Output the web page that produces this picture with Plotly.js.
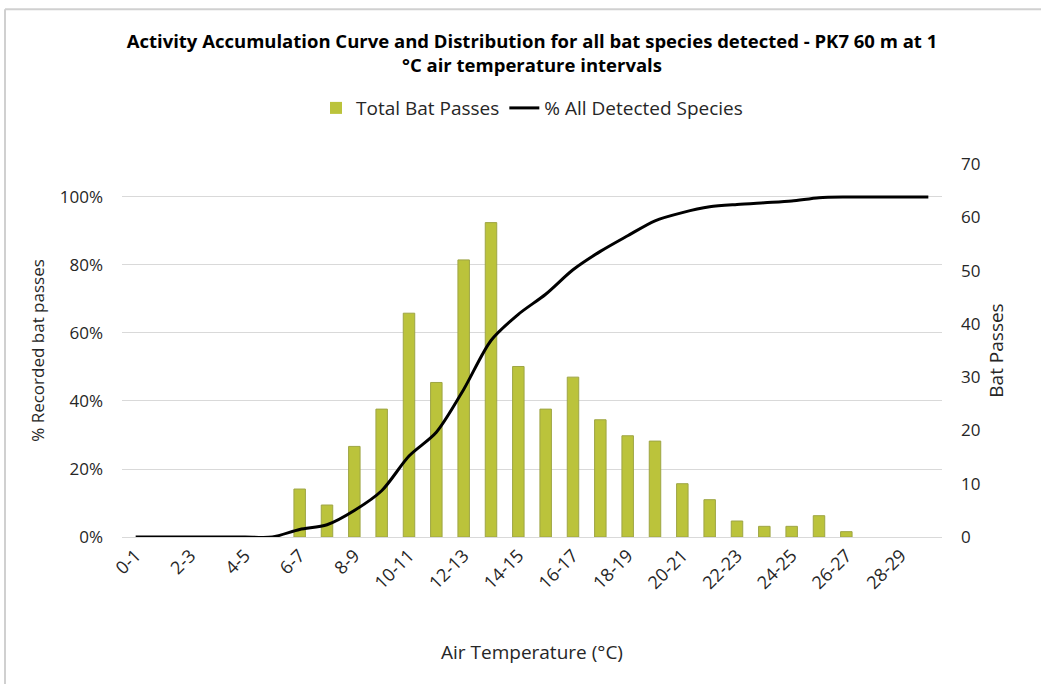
<!DOCTYPE html>
<html>
<head>
<meta charset="utf-8">
<script src="https://cdn.plot.ly/plotly-3.0.1.min.js"></script>
<style>html,body{margin:0;padding:0;background:#fff;}#chart{width:1041px;height:684px;}</style>
</head>
<body>
<div id="chart"></div>
<script>
// Air temperature intervals (°C)
const categories = ["0-1","1-2","2-3","3-4","4-5","5-6","6-7","7-8","8-9","9-10",
  "10-11","11-12","12-13","13-14","14-15","15-16","16-17","17-18","18-19","19-20",
  "20-21","21-22","22-23","23-24","24-25","25-26","26-27","27-28","28-29","29-30"];

// Total bat passes per interval (right axis)
const batPasses = [0,0,0,0,0,0,9,6,17,24,
  42,29,52,59,32,24,30,22,19,18,
  10,7,3,2,2,4,1,0,0,0];

// % of all detected species, cumulative (left axis, as fraction)
const cumulativePct = [0,0,0,0,0,0,0.022,0.036,0.078,0.136,
  0.238,0.308,0.434,0.578,0.655,0.714,0.786,0.840,0.886,0.930,
  0.954,0.971,0.978,0.983,0.988,0.998,1.0,1.0,1.0,1.0];

const tickLabels = ["0-1","2-3","4-5","6-7","8-9","10-11","12-13","14-15","16-17","18-19","20-21","22-23","24-25","26-27","28-29"];

const FONT = "Open Sans, Liberation Sans, sans-serif";
const TXT = "#262626";

const traces = [
  {
    type: "bar",
    name: "Total Bat Passes",
    x: categories,
    y: batPasses,
    xaxis: "x",
    yaxis: "y",
    marker: {color: "#BBC33B", line: {color: "#9EA544", width: batPasses.map(v => v > 0 ? 1 : 0)}},
    hoverinfo: "x+y"
  },
  {
    type: "scatter",
    mode: "lines",
    name: "% All Detected Species",
    x: categories,
    y: cumulativePct,
    xaxis: "x",
    yaxis: "y2",
    line: {color: "#000000", width: 3, shape: "spline", smoothing: 0.8}
  }
];

const layout = {
  width: 1041,
  height: 684,
  paper_bgcolor: "#ffffff",
  plot_bgcolor: "#ffffff",
  font: {family: FONT, size: 17, color: TXT},
  margin: {l: 122, r: 99, t: 164, b: 147, pad: 0},
  title: {
    text: "<b>Activity Accumulation Curve and Distribution for all bat species detected - PK7 60 m at 1<br>°C air temperature intervals</b>",
    font: {family: FONT, size: 18.5, color: "#000000", lineposition: "none"},
    x: 0.5, xref: "paper", xanchor: "center",
    y: 0.93, yref: "container", yanchor: "top"
  },
  showlegend: true,
  legend: {
    orientation: "h",
    x: 0.5, xanchor: "center",
    y: 1.15, yanchor: "middle",
    font: {family: FONT, size: 19, color: TXT},
    traceorder: "normal",
    itemwidth: 30,
    bgcolor: "rgba(0,0,0,0)"
  },
  bargap: 0.58,
  xaxis: {
    type: "category",
    categoryorder: "array",
    categoryarray: categories,
    range: [-0.5, categories.length - 0.5],
    tickmode: "array",
    tickvals: tickLabels,
    ticktext: tickLabels,
    tickangle: -45,
    ticks: "",
    showgrid: false,
    zeroline: false,
    showline: true,
    linecolor: "#D9D9D9",
    linewidth: 1,
    tickfont: {family: FONT, size: 18, color: TXT},
    title: {text: "Air Temperature (°C)", font: {family: FONT, size: 19, color: TXT}, standoff: 52},
    automargin: false,
    fixedrange: true
  },
  yaxis: {
    side: "right",
    range: [0, 70],
    dtick: 10,
    tick0: 0,
    showgrid: false,
    zeroline: false,
    showline: false,
    ticks: "",
    ticklabelstandoff: 18,
    tickfont: {family: FONT, size: 17, color: TXT},
    title: {text: "Bat Passes", font: {family: FONT, size: 19, color: TXT}, standoff: 10},
    automargin: false
  },
  yaxis2: {
    overlaying: "y",
    side: "left",
    range: [0, 1.097],
    tickmode: "array",
    tickvals: [0, 0.2, 0.4, 0.6, 0.8, 1.0],
    tickformat: ".0%",
    showgrid: true,
    gridcolor: "#D9D9D9",
    gridwidth: 1,
    zeroline: false,
    showline: false,
    ticks: "",
    ticklabelstandoff: 18,
    tickfont: {family: FONT, size: 17, color: TXT},
    title: {text: "% Recorded bat passes", font: {family: FONT, size: 17, color: TXT}, standoff: 10},
    automargin: false
  },
  shapes: [
    {type: "line", xref: "paper", yref: "paper", x0: -0.1427, x1: 1.2, y0: 1.415, y1: 1.415, line: {color: "#D0D0D0", width: 2}},
    {type: "line", xref: "paper", yref: "paper", x0: -0.1427, x1: -0.1427, y0: -0.5, y1: 1.415, line: {color: "#D0D0D0", width: 2}}
  ]
};

Plotly.newPlot("chart", traces, layout, {displayModeBar: false, staticPlot: true});
</script>
</body>
</html>
